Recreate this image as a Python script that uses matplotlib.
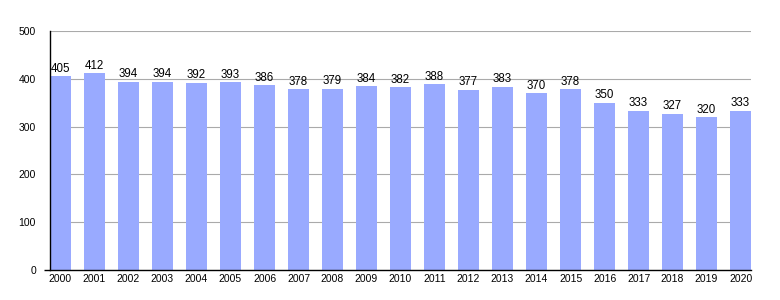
import matplotlib
matplotlib.use("Agg")
import matplotlib.pyplot as plt

years = [str(y) for y in range(2000, 2021)]
values = [405, 412, 394, 394, 392, 393, 386, 378, 379, 384, 382, 388,
          377, 383, 370, 378, 350, 333, 327, 320, 333]
yticks = [0, 100, 200, 300, 400, 500]

plt.rcParams['font.family'] = ['Liberation Sans', 'DejaVu Sans']

fig = plt.figure(figsize=(7.8, 3.0), dpi=100)
ax = fig.add_axes([0.064, 0.1, 0.899, 0.797])

w = 0.62
x = list(range(len(years)))
ax.bar(x, values, width=w, color="#99aaff", zorder=2)
for xi, v in zip(x, values):
    ax.text(xi, v + 3, str(v), ha="center", va="bottom", fontsize=8.3, color="black")

ax.set_xlim(-w / 2, len(years) - 1 + w / 2)
ax.set_ylim(0, 500)
ax.set_yticks(yticks)
ax.set_xticks(x)
ax.set_xticklabels(years)
ax.tick_params(axis="x", labelsize=7.5, length=0, pad=3)
ax.tick_params(axis="y", labelsize=7.5, length=4, width=1, pad=6)
# only the tick at 0 shows a mark
for t in ax.yaxis.get_major_ticks()[1:]:
    t.tick1line.set_visible(False)
ax.yaxis.grid(True, color="#aaaaaa", linewidth=0.8, zorder=0)
for s in ["top", "right"]:
    ax.spines[s].set_visible(False)
ax.spines["left"].set_linewidth(1)
ax.spines["bottom"].set_linewidth(1)

fig.savefig("out.png", dpi=100)
